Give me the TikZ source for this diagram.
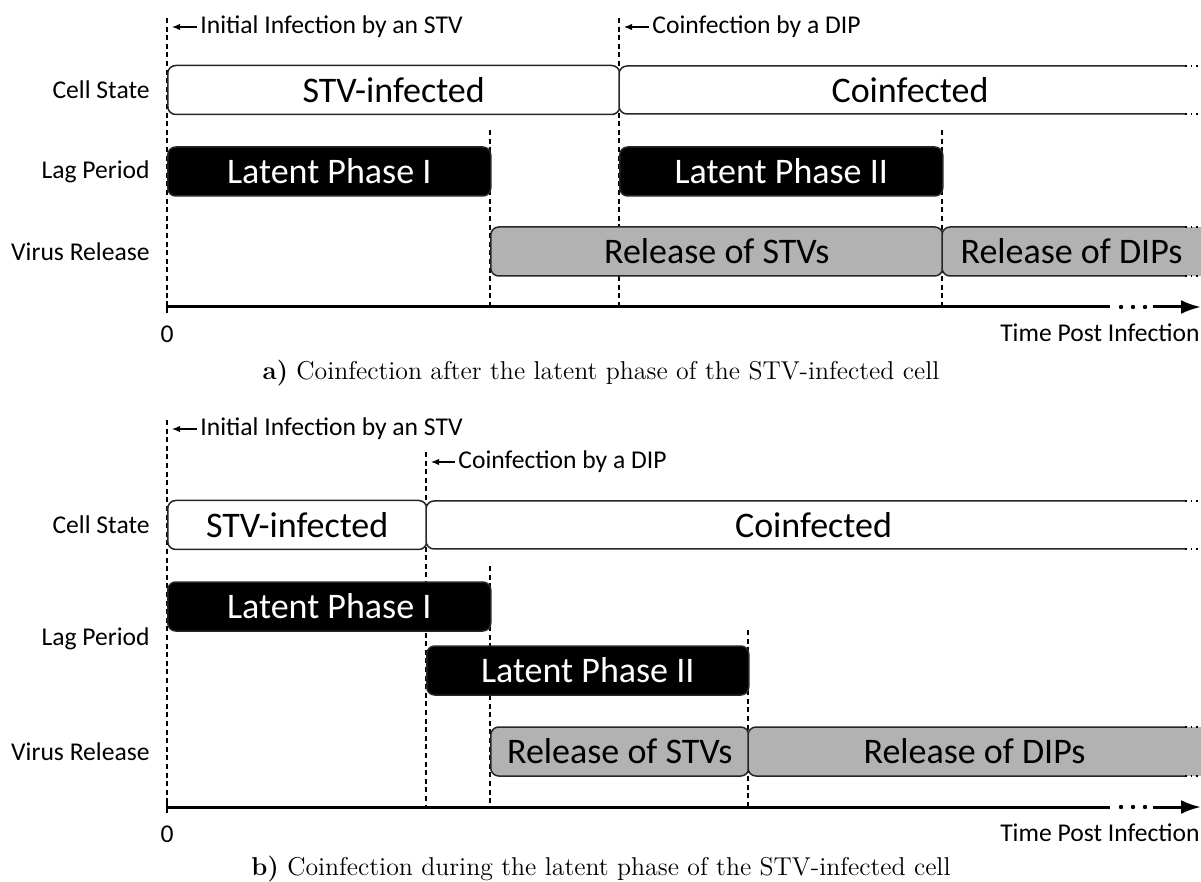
\documentclass[tikz,border=0pt]{standalone}
\usepackage{fontspec}
\newfontfamily\carl{Carlito}
\usetikzlibrary{arrows.meta}
\begin{document}
\begin{tikzpicture}[x=0.5pt,y=-0.5pt,
  lbl/.style={font=\carl\fontsize{12.8}{15}\selectfont, inner sep=0pt},
  rowlbl/.style={lbl, anchor=east},
  phase/.style={draw=black!85, line width=0.75pt, rounded corners=4pt,
    minimum height=24.5pt, inner sep=0pt, anchor=west,
    font=\carl\fontsize{18}{21}\selectfont},
  cellst/.style={phase, fill=white},
  lagph/.style={phase, fill=black, text=white},
  relph/.style={phase, fill=black!30},
  openfill/.style={draw=black!85, line width=0.75pt, rounded corners=4pt},
  opentxt/.style={inner sep=0pt, font=\carl\fontsize{18}{21}\selectfont},
  marker/.style={line width=0.55pt, dash pattern=on 2.5pt off 1.8pt},
  note/.style={-{Latex[length=4pt,width=3.2pt]}, line width=0.55pt},
  axisln/.style={line width=1.5pt},
  edgedots/.style={line width=0.75pt, dotted},
  capt/.style={font=\fontsize{12.9}{15}\selectfont, inner sep=0pt},
]
\useasboundingbox (0,0) rectangle (1201,882);

% ================= panel a =================
% event markers
\draw[marker] (167,18) -- (167,307);
\draw[marker] (619,18) -- (619,307);
\draw[marker] (490,130) -- (490,307);
\draw[marker] (942,130) -- (942,307);

% event notes
\node[lbl, anchor=west] (ia) at (200,27) {Initial Infection by an STV};
\coordinate (iaa) at (172,27);
\draw[note] (ia.west) ++(-3,0) coordinate (iab) -- (iaa);
\node[lbl, anchor=west] (ca) at (652,27) {Coinfection by a DIP};
\coordinate (caa) at (624,27);
\draw[note] (ca.west) ++(-3,0) coordinate (cab) -- (caa);

% row labels
\node[rowlbl] (csa) at (150,90) {Cell State};
\node[rowlbl] (lpa) at (150,171.5) {Lag Period};
\node[rowlbl] (vra) at (150,251.5) {Virus Release};

% cell state
\node[cellst, minimum width=226pt] (stva) at (167,90) {STV-infected};
\fill[white] (1185,66) rectangle (1201,114);
\draw[openfill, fill=white] (1185,66) -- (619,66) -- (619,114) -- (1185,114);
\draw[edgedots] (1185,66) -- (1201,66);
\draw[edgedots] (1185,114) -- (1201,114);
\node[opentxt] (coa) at (910,90) {Coinfected};

% lag period
\node[lagph, minimum width=161.5pt] (l1a) at (167,171.5) {Latent Phase I};
\node[lagph, minimum width=161.5pt] (l2a) at (619,171.5) {Latent Phase II};

% virus release
\node[relph, minimum width=226pt] (rsa) at (490,251.5) {Release of STVs};
\fill[black!30] (1185,227) rectangle (1201,276);
\draw[openfill, fill=black!30] (1185,227) -- (942,227) -- (942,276) -- (1185,276);
\draw[edgedots] (1185,227) -- (1201,227);
\draw[edgedots] (1185,276) -- (1201,276);
\node[opentxt] (rda) at (1071.5,251.5) {Release of DIPs};

% time axis
\coordinate (ax0a) at (167,307);
\coordinate (ax1a) at (1110,307);
\coordinate (ax2a) at (1153,307);
\coordinate (ax3a) at (1201,307);
\draw[axisln] (ax0a) -- (ax1a);
\draw[line width=0.75pt] (167,301) -- (167,313);
\foreach \d in {1121,1133,1145} \fill (\d,307) circle (1.1pt);
\draw[axisln, -{Latex[length=10pt,width=7pt]}] (ax2a) -- (ax3a);
\node[lbl] (z0a) at (167,334) {0};
\node[lbl, anchor=east] (tpa) at (1200,333) {Time Post Infection};

\node[capt] (capa) at (601,373) {\textbf{a)} Coinfection after the latent phase of the STV-infected cell};

% ================= panel b =================
\draw[marker] (167,420) -- (167,807);
\draw[marker] (426,452) -- (426,807);
\draw[marker] (490,566) -- (490,807);
\draw[marker] (748,630) -- (748,807);

\node[lbl, anchor=west] (ib) at (200,429) {Initial Infection by an STV};
\coordinate (iba) at (172,429);
\draw[note] (ib.west) ++(-3,0) coordinate (ibb) -- (iba);
\node[lbl, anchor=west] (cb) at (458,462) {Coinfection by a DIP};
\coordinate (cba) at (431,462);
\draw[note] (cb.west) ++(-3,0) coordinate (cbb) -- (cba);

\node[rowlbl] (csb) at (150,525) {Cell State};
\node[rowlbl] (lpb) at (150,638.5) {Lag Period};
\node[rowlbl] (vrb) at (150,751.5) {Virus Release};

\node[cellst, minimum width=129.5pt] (stvb) at (167,525) {STV-infected};
\fill[white] (1185,501) rectangle (1201,549);
\draw[openfill, fill=white] (1185,501) -- (426,501) -- (426,549) -- (1185,549);
\draw[edgedots] (1185,501) -- (1201,501);
\draw[edgedots] (1185,549) -- (1201,549);
\node[opentxt] (cob) at (813.5,525) {Coinfected};

\node[lagph, minimum width=161.5pt] (l1b) at (167,606.5) {Latent Phase I};
\node[lagph, minimum width=161pt] (l2b) at (426,670.5) {Latent Phase II};

\node[relph, minimum width=129pt] (rsb) at (490,751.5) {Release of STVs};
\fill[black!30] (1185,727) rectangle (1201,776);
\draw[openfill, fill=black!30] (1185,727) -- (748,727) -- (748,776) -- (1185,776);
\draw[edgedots] (1185,727) -- (1201,727);
\draw[edgedots] (1185,776) -- (1201,776);
\node[opentxt] (rdb) at (974.5,751.5) {Release of DIPs};

\coordinate (ax0b) at (167,807);
\coordinate (ax1b) at (1110,807);
\coordinate (ax2b) at (1153,807);
\coordinate (ax3b) at (1201,807);
\draw[axisln] (ax0b) -- (ax1b);
\draw[line width=0.75pt] (167,801) -- (167,813);
\foreach \d in {1121,1133,1145} \fill (\d,807) circle (1.1pt);
\draw[axisln, -{Latex[length=10pt,width=7pt]}] (ax2b) -- (ax3b);
\node[lbl] (z0b) at (167,834) {0};
\node[lbl, anchor=east] (tpb) at (1200,833) {Time Post Infection};

\node[capt] (capb) at (601,869) {\textbf{b)} Coinfection during the latent phase of the STV-infected cell};
\end{tikzpicture}
\end{document}
